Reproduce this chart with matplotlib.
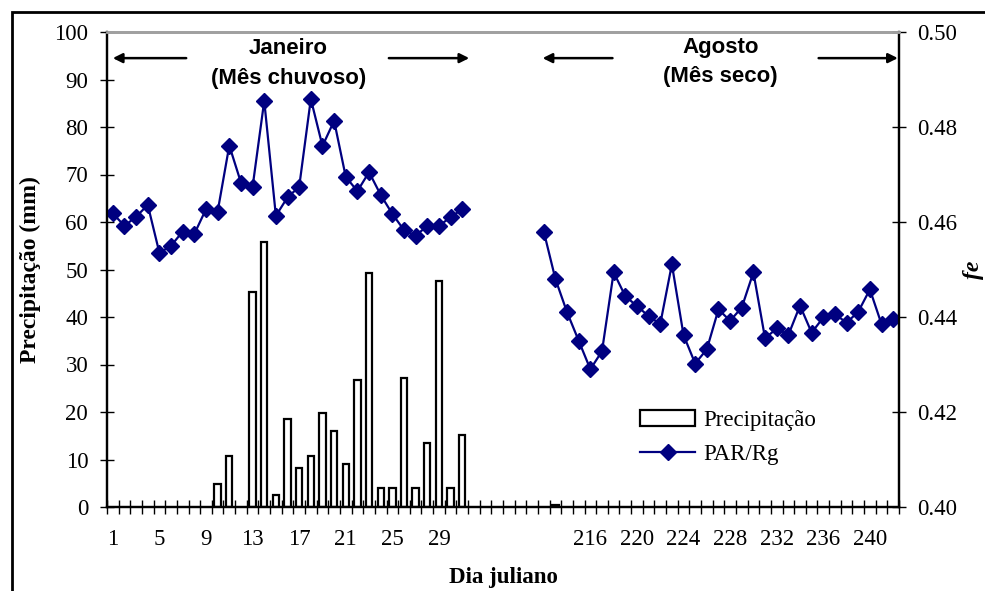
import numpy as np
import matplotlib
matplotlib.use("Agg")
import matplotlib.pyplot as plt
from matplotlib.patches import Rectangle, Patch
from matplotlib.lines import Line2D

# ---------------- data ----------------
jan_days = list(range(1, 32))
aug_days = list(range(212, 243))
n_gap = 6  # empty categories between the two months

jan_precip = [0, 0, 0, 0, 0, 0, 0, 0, 0, 4.8, 10.7, 0, 45.3, 55.7, 2.6, 18.5,
              8.2, 10.7, 19.8, 15.9, 9.1, 26.7, 49.2, 3.9, 3.9, 27.2, 3.9,
              13.4, 47.5, 3.9, 15.1]
aug_precip = [0, 0.4] + [0] * 29

jan_fe = [0.4618, 0.4592, 0.4611, 0.4636, 0.4535, 0.4550, 0.4580, 0.4575,
          0.4627, 0.4622, 0.4761, 0.4683, 0.4674, 0.4855, 0.4613, 0.4652,
          0.4674, 0.4859, 0.4760, 0.4813, 0.4695, 0.4665, 0.4705, 0.4657,
          0.4617, 0.4583, 0.4571, 0.4592, 0.4592, 0.4610, 0.4627]
aug_fe = [0.4580, 0.4480, 0.4410, 0.4350, 0.4290, 0.4328, 0.4494, 0.4444,
          0.4423, 0.4402, 0.4385, 0.4511, 0.4362, 0.4302, 0.4332, 0.4416,
          0.4392, 0.4420, 0.4494, 0.4355, 0.4376, 0.4362, 0.4424, 0.4367,
          0.4399, 0.4406, 0.4388, 0.4411, 0.4458, 0.4385, 0.4395]

xtick_labels = ["1", "5", "9", "13", "17", "21", "25", "29",
                "216", "220", "224", "228", "232", "236", "240"]
left_yticks = [0, 10, 20, 30, 40, 50, 60, 70, 80, 90, 100]
right_yticks = [0.40, 0.42, 0.44, 0.46, 0.48, 0.50]

# ---------------- positions ----------------
categories = [str(d) for d in jan_days] + [""] * n_gap + [str(d) for d in aug_days]
n_cat = len(categories)
x_jan = np.arange(len(jan_days))
x_aug = np.arange(len(aug_days)) + len(jan_days) + n_gap
tick_pos = [categories.index(l) for l in xtick_labels]

serif = "Liberation Serif"
sans = "Liberation Sans"
plt.rcParams["font.family"] = serif

W, H = 985, 591
fig = plt.figure(figsize=(W / 100, H / 100), dpi=100)
ax = fig.add_axes([107 / W, 1 - 507 / H, (899 - 107) / W, (507 - 32) / H])
ax2 = ax.twinx()

# bars
xb = np.concatenate([x_jan, x_aug])
pb = np.array(jan_precip + aug_precip)
m = pb > 0
ax.bar(xb[m], pb[m], width=0.55, facecolor="white", edgecolor="black",
       linewidth=1.6, zorder=2)

# lines
line_kw = dict(color="#000080", lw=1.6, marker="D", markersize=8,
               markerfacecolor="#000080", markeredgecolor="#000080")
ax2.plot(x_jan, jan_fe, **line_kw)
ax2.plot(x_aug, aug_fe, **line_kw)

# axes limits
ax.set_xlim(-0.5, n_cat - 0.5)
ax.set_ylim(0, 100)
ax2.set_ylim(0.40, 0.50)

fs = 16.5
ax.set_yticks(left_yticks)
ax.set_yticklabels([str(v) for v in left_yticks], fontsize=fs)
ax2.set_yticks(right_yticks)
ax2.set_yticklabels([f"{v:.2f}" for v in right_yticks], fontsize=fs)
ax.set_xticks(tick_pos)
ax.set_xticklabels(xtick_labels, fontsize=fs)
ax.set_xticks(np.arange(-0.5, n_cat, 1.0), minor=True)
ax.tick_params(axis="x", which="major", length=0, pad=15.5)
ax.tick_params(axis="x", which="minor", length=10, direction="inout", width=1)
ax.tick_params(axis="y", length=10, direction="inout", width=1, pad=8.5)
ax2.tick_params(axis="y", length=10, direction="inout", width=1, pad=8)

for a in (ax, ax2):
    a.spines["top"].set_color("#a0a0a0")
    a.spines["top"].set_linewidth(2)
    for s in ("left", "right", "bottom"):
        a.spines[s].set_linewidth(1.6)

ax.set_ylabel("Precipitação (mm)", fontsize=17, fontweight="bold")
ax.yaxis.set_label_coords((30 - 107) / (899 - 107), 0.5)
ax2.set_ylabel("fe", fontsize=17, fontweight="bold", style="italic")
ax2.yaxis.set_label_coords((974 - 107) / (899 - 107), 0.5)
ax.set_xlabel("Dia juliano", fontsize=16.5, fontweight="bold")
ax.xaxis.set_label_coords(0.5, -(578 - 507) / (507 - 32))
ax.xaxis.label.set_va("center")
ax.yaxis.label.set_va("center")
ax2.yaxis.label.set_va("center")

# month annotations
def arrow(x0, x1):
    ax.annotate("", xy=(x1, 94.5), xytext=(x0, 94.5),
                arrowprops=dict(arrowstyle="-|>", color="black", lw=1.8,
                                mutation_scale=14, shrinkA=0, shrinkB=0))

arrow(6.3, 0.0)
arrow(23.7, 30.6)
arrow(42.9, 36.9)
arrow(60.6, 67.4)
tk = dict(ha="center", va="center", fontsize=16, fontweight="bold", family=sans)
ax.text(15.1, 96.5, "Janeiro", **tk)
ax.text(15.1, 90.2, "(Mês chuvoso)", **tk)
ax.text(52.2, 96.8, "Agosto", **tk)
ax.text(52.2, 90.6, "(Mês seco)", **tk)

# legend
handles = [Patch(facecolor="white", edgecolor="black", linewidth=1.6, label="Precipitação"),
           Line2D([], [], **line_kw, label="PAR/Rg")]
ax2.legend(handles=handles, loc="upper left", bbox_to_anchor=(624 / W, 1 - 394 / H),
           bbox_transform=fig.transFigure, frameon=False, fontsize=fs,
           handlelength=2.4, handletextpad=0.35, labelspacing=0.55, borderpad=0.2)

# outer border
fig.add_artist(Rectangle((12 / W, -0.2), 1.2, 1.2 - 12 / H, transform=fig.transFigure,
                         fill=False, edgecolor="black", lw=2.0))

fig.savefig("out.png", dpi=100)
